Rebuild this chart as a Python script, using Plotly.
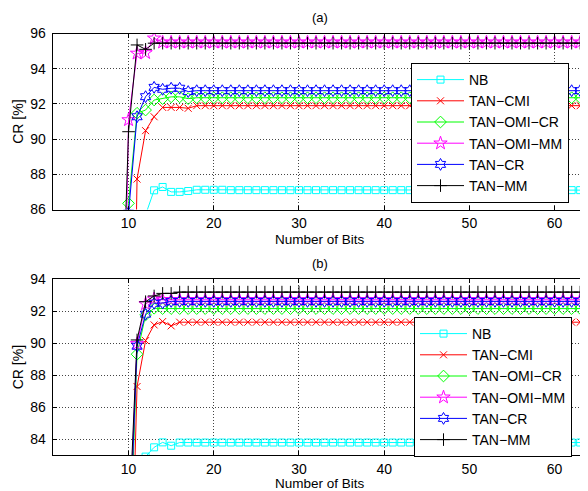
import plotly.graph_objects as go

BITS = list(range(9, 64))
SERIES = ["NB", "TAN−CMI", "TAN−OMI−CR", "TAN−OMI−MM", "TAN−CR", "TAN−MM"]

# ---- panel (a) values, x = 9..63 ----
A_NB = [70.0, 78.0, 82.0, 85.7, 87.09, 87.28, 87.0, 87.0, 87.05] + [
    87.12, 87.12, 87.12, 87.12, 87.1, 87.1, 87.1, 87.1, 87.1, 87.1,
    87.1, 87.1, 87.1, 87.1, 87.1, 87.1, 87.1, 87.1, 87.1, 87.1,
    87.1, 87.1, 87.1, 87.1, 87.1, 87.1, 87.1, 87.1, 87.1, 87.1,
    87.1, 87.1, 87.1, 87.1, 87.1, 87.1, 87.1, 87.1, 87.1, 87.1,
    87.1, 87.1, 87.1, 87.1, 87.1, 87.1]
A_CMI = [50.0, 60.0, 87.73, 90.48, 91.27, 91.8, 91.8, 91.8, 91.75] + [
    91.9, 91.9, 91.9, 91.9, 91.9, 91.9, 91.9, 91.9, 91.9, 91.9,
    91.9, 91.9, 91.9, 91.9, 91.9, 91.9, 91.9, 91.9, 91.9, 91.9,
    91.9, 91.9, 91.9, 91.9, 91.9, 91.9, 91.9, 91.9, 91.9, 91.9,
    91.9, 91.9, 91.9, 91.9, 91.9, 91.9, 91.9, 91.9, 91.9, 91.9,
    91.9, 91.9, 91.9, 91.9, 91.9, 91.9]
A_OMI_CR = [70.0, 86.35, 91.47, 91.65, 92.22, 92.3, 92.4, 92.4, 92.3] + [
    92.35, 92.35, 92.35, 92.35, 92.35, 92.35, 92.35, 92.35, 92.35, 92.35,
    92.35, 92.35, 92.35, 92.35, 92.35, 92.35, 92.35, 92.35, 92.35, 92.35,
    92.35, 92.35, 92.35, 92.35, 92.35, 92.35, 92.35, 92.35, 92.35, 92.35,
    92.35, 92.35, 92.35, 92.35, 92.35, 92.35, 92.35, 92.35, 92.35, 92.35,
    92.35, 92.35, 92.35, 92.35, 92.35, 92.35]
A_OMI_MM = [65.0, 91.09, 94.87, 94.9, 95.73, 95.5, 95.5, 95.5, 95.5] + [
    95.5, 95.5, 95.5, 95.5, 95.5, 95.5, 95.5, 95.5, 95.5, 95.5,
    95.5, 95.5, 95.5, 95.5, 95.5, 95.5, 95.5, 95.5, 95.5, 95.5,
    95.5, 95.5, 95.5, 95.5, 95.5, 95.5, 95.5, 95.5, 95.5, 95.5,
    95.5, 95.5, 95.5, 95.5, 95.5, 95.5, 95.5, 95.5, 95.5, 95.5,
    95.5, 95.5, 95.5, 95.5, 95.5, 95.5]
A_CR = [70.0, 85.8, 91.27, 92.41, 92.94, 92.83, 92.89, 92.89, 92.7] + [
    92.75, 92.75, 92.75, 92.75, 92.75, 92.75, 92.75, 92.75, 92.75, 92.75,
    92.75, 92.75, 92.75, 92.75, 92.75, 92.75, 92.75, 92.75, 92.75, 92.75,
    92.75, 92.75, 92.75, 92.75, 92.75, 92.75, 92.75, 92.75, 92.75, 92.75,
    92.75, 92.75, 92.75, 92.75, 92.75, 92.75, 92.75, 92.75, 92.75, 92.75,
    92.75, 92.75, 92.75, 92.75, 92.75, 92.75]
A_MM = [76.0, 90.42, 95.35, 95.1, 95.45, 95.45, 95.45, 95.45, 95.45] + [
    95.45, 95.45, 95.45, 95.45, 95.45, 95.45, 95.45, 95.45, 95.45, 95.45,
    95.45, 95.45, 95.45, 95.45, 95.45, 95.45, 95.45, 95.45, 95.45, 95.45,
    95.45, 95.45, 95.45, 95.45, 95.45, 95.45, 95.45, 95.45, 95.45, 95.45,
    95.45, 95.45, 95.45, 95.45, 95.45, 95.45, 95.45, 95.45, 95.45, 95.45,
    95.45, 95.45, 95.45, 95.45, 95.45, 95.45]

# ---- panel (b) values, x = 9..63 ----
B_NB = [60.0, 70.0, 76.0, 82.9, 83.48, 83.79, 83.58, 83.78, 83.78] + [
    83.78, 83.78, 83.78, 83.78, 83.78, 83.78, 83.78, 83.78, 83.78, 83.78,
    83.78, 83.78, 83.78, 83.78, 83.78, 83.78, 83.78, 83.78, 83.78, 83.78,
    83.78, 83.78, 83.78, 83.78, 83.78, 83.78, 83.78, 83.78, 83.78, 83.78,
    83.78, 83.78, 83.78, 83.78, 83.78, 83.78, 83.78, 83.78, 83.78, 83.78,
    83.78, 83.78, 83.78, 83.78, 83.78, 83.78]
B_CMI = [50.0, 68.0, 87.28, 90.15, 91.13, 91.34, 91.07, 91.3, 91.3] + [
    91.3, 91.3, 91.3, 91.3, 91.3, 91.3, 91.3, 91.3, 91.3, 91.3,
    91.3, 91.3, 91.3, 91.3, 91.3, 91.3, 91.3, 91.3, 91.3, 91.3,
    91.3, 91.3, 91.3, 91.3, 91.3, 91.3, 91.3, 91.3, 91.3, 91.3,
    91.3, 91.3, 91.3, 91.3, 91.3, 91.3, 91.3, 91.3, 91.3, 91.3,
    91.3, 91.3, 91.3, 91.3, 91.3, 91.3]
B_OMI_CR = [60.0, 75.0, 89.3, 91.75, 92.17, 92.15, 92.15, 92.15, 92.15] + [
    92.15, 92.15, 92.15, 92.15, 92.15, 92.15, 92.15, 92.15, 92.15, 92.15,
    92.15, 92.15, 92.15, 92.15, 92.15, 92.15, 92.15, 92.15, 92.15, 92.15,
    92.15, 92.15, 92.15, 92.15, 92.15, 92.15, 92.15, 92.15, 92.15, 92.15,
    92.15, 92.15, 92.15, 92.15, 92.15, 92.15, 92.15, 92.15, 92.15, 92.15,
    92.15, 92.15, 92.15, 92.15, 92.15, 92.15]
B_OMI_MM = [60.0, 77.0, 89.95, 92.44, 92.75, 92.7, 92.7, 92.7, 92.7] + [
    92.7, 92.7, 92.7, 92.7, 92.7, 92.7, 92.7, 92.7, 92.7, 92.7,
    92.7, 92.7, 92.7, 92.7, 92.7, 92.7, 92.7, 92.7, 92.7, 92.7,
    92.7, 92.7, 92.7, 92.7, 92.7, 92.7, 92.7, 92.7, 92.7, 92.7,
    92.7, 92.7, 92.7, 92.7, 92.7, 92.7, 92.7, 92.7, 92.7, 92.7,
    92.7, 92.7, 92.7, 92.7, 92.7, 92.7]
B_CR = [60.0, 76.0, 89.8, 91.8, 92.48, 92.5, 92.6, 92.6, 92.6] + [
    92.6, 92.6, 92.6, 92.6, 92.6, 92.6, 92.6, 92.6, 92.6, 92.6,
    92.6, 92.6, 92.6, 92.6, 92.6, 92.6, 92.6, 92.6, 92.6, 92.6,
    92.6, 92.6, 92.6, 92.6, 92.6, 92.6, 92.6, 92.6, 92.6, 92.6,
    92.6, 92.6, 92.6, 92.6, 92.6, 92.6, 92.6, 92.6, 92.6, 92.6,
    92.6, 92.6, 92.6, 92.6, 92.6, 92.6]
B_MM = [60.0, 78.0, 90.19, 92.58, 92.94, 93.1, 93.1, 93.18, 93.18] + [
    93.18, 93.18, 93.18, 93.18, 93.18, 93.18, 93.18, 93.18, 93.18, 93.18,
    93.18, 93.18, 93.18, 93.18, 93.18, 93.18, 93.18, 93.18, 93.18, 93.18,
    93.18, 93.18, 93.18, 93.18, 93.18, 93.18, 93.18, 93.18, 93.18, 93.18,
    93.18, 93.18, 93.18, 93.18, 93.18, 93.18, 93.18, 93.18, 93.18, 93.18,
    93.18, 93.18, 93.18, 93.18, 93.18, 93.18]

PANEL_A = [A_NB, A_CMI, A_OMI_CR, A_OMI_MM, A_CR, A_MM]
PANEL_B = [B_NB, B_CMI, B_OMI_CR, B_OMI_MM, B_CR, B_MM]
X_TICKS = [10, 20, 30, 40, 50, 60]
Y_TICKS_A = [86, 88, 90, 92, 94, 96]
Y_TICKS_B = [84, 86, 88, 90, 92, 94]

COLORS = ["#00FFFF", "#FF0000", "#00FF00", "#FF00FF", "#0000FF", "#000000"]
SYMBOLS = ["square-open", "x-thin-open", "diamond-open", "star-open",
           "hexagram-open", "cross-thin-open"]
SIZES = [7, 7, 9, 10, 9, 9]

FONT = "Liberation Sans, Arial, Helvetica, sans-serif"
FS = 14

fig = go.Figure()
for panel, (xa, ya, lg) in zip([PANEL_A, PANEL_B],
                               [("x", "y", "legend"), ("x2", "y2", "legend2")]):
    for name, vals, c, s, sz in zip(SERIES, panel, COLORS, SYMBOLS, SIZES):
        fig.add_trace(go.Scatter(
            x=BITS, y=vals, name=name, mode="lines+markers",
            xaxis=xa, yaxis=ya, legend=lg,
            line=dict(color=c, width=1),
            marker=dict(symbol=s, size=sz, color=c,
                        line=dict(color=c, width=1)),
        ))

# page has an 8px body margin; figure coords = reference coords - 8
OFF = 8
W, H = 588 - OFF, 491 - OFF
L, R = 52.7 - OFF, 587.0 - OFF
xdom = [L / W, R / W]
A_TOP, A_BOT = 33.5 - OFF, 209.5 - OFF
B_TOP, B_BOT = 279.0 - OFF, 455.0 - OFF
ydom_a = [1 - A_BOT / H, 1 - A_TOP / H]
ydom_b = [1 - B_BOT / H, 1 - B_TOP / H]

tfont = dict(family=FONT, size=FS, color="black")
axis_common = dict(
    showline=True, linecolor="black", linewidth=1, mirror="ticks",
    ticks="inside", ticklen=4, tickcolor="black", tickwidth=1,
    showgrid=True, gridcolor="#444444", gridwidth=1, griddash="1px,2px",
    zeroline=False, tickfont=tfont, automargin=False,
)
xaxis_common = dict(axis_common, range=[1.1, 63.8], tickvals=X_TICKS, domain=xdom,
                    ticklabelstandoff=1)
yaxis_common = dict(axis_common, ticklabelstandoff=3)

legend_common = dict(xanchor="left", yanchor="top",
                     bgcolor="white", bordercolor="black", borderwidth=1,
                     font=tfont, itemwidth=47, tracegroupgap=0)


def px(xp, yp):
    return xp / W, 1 - yp / H


annots = []
for label, yy in [("(a)", 17 - OFF), ("(b)", 263 - OFF)]:
    ax, ay = px((L + R) / 2, yy)
    annots.append(dict(text=label, x=ax, y=ay, xref="paper", yref="paper",
                       xanchor="center", yanchor="middle", borderpad=0,
                       showarrow=False, font=dict(family=FONT, size=13, color="black")))
for yy in [239.0 - OFF, 483.0 - OFF]:
    ax, ay = px((L + R) / 2, yy)
    annots.append(dict(text="Number of Bits", x=ax, y=ay, xref="paper", yref="paper",
                       xanchor="center", yanchor="middle", borderpad=0,
                       showarrow=False, font=dict(family=FONT, size=13.5, color="black")))
for top, bot in [(A_TOP, A_BOT), (B_TOP, B_BOT)]:
    ax, ay = px(18.3 - OFF, (top + bot) / 2)
    annots.append(dict(text="CR [%]", x=ax, y=ay, xref="paper", yref="paper",
                       xanchor="center", yanchor="middle", borderpad=0,
                       showarrow=False, textangle=-90, font=tfont))

lx1, ly1 = px(411 - OFF, 63 - OFF)
lx2, ly2 = px(414 - OFF, 317 - OFF)

fig.update_layout(
    width=W, height=H,
    margin=dict(l=0, r=0, t=0, b=0),
    paper_bgcolor="white", plot_bgcolor="white",
    font=tfont,
    xaxis=dict(xaxis_common, anchor="y"),
    xaxis2=dict(xaxis_common, anchor="y2"),
    yaxis=dict(yaxis_common, range=[86, 96], tickvals=Y_TICKS_A, domain=ydom_a, anchor="x"),
    yaxis2=dict(yaxis_common, range=[83, 94], tickvals=Y_TICKS_B, domain=ydom_b, anchor="x2"),
    legend=dict(legend_common, x=lx1, y=ly1),
    legend2=dict(legend_common, x=lx2, y=ly2),
    showlegend=True,
    annotations=annots,
)

fig.write_html("out.html")
